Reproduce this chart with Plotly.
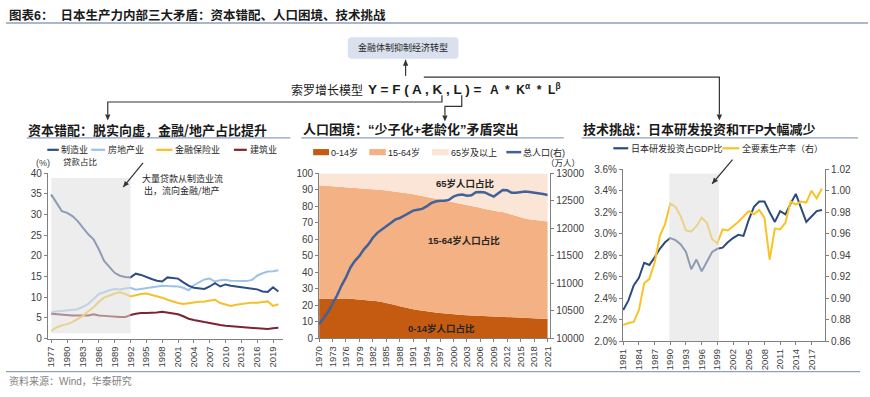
import plotly.graph_objects as go

W, H = 870, 397
def X(p): return p / W
def Y(p): return 1 - p / H

CJK = "Noto Sans CJK SC"
LAT = "Liberation Sans, Noto Sans CJK SC"

# ---------------- data ----------------
# Chart 1: loan share by industry (%)
loan_years = list(range(1977, 2021))
loan_manufacturing = [34.8, 32.9, 30.8, 30.4, 29.6, 28.4, 26.8, 25.2, 24.0, 21.6,
                      18.8, 17.3, 15.9, 15.2, 14.9, 14.8, 15.7, 15.4, 14.8, 14.4,
                      14.0, 13.8, 14.8, 14.6, 14.5, 13.6, 12.8, 12.3, 12.1, 12.0,
                      12.6, 13.4, 12.6, 13.1, 12.8, 12.6, 12.4, 12.3, 12.1, 11.9,
                      11.4, 11.3, 12.4, 11.4]
loan_real_estate = [6.3, 6.6, 6.7, 6.8, 6.9, 7.1, 7.7, 8.4, 9.6, 10.8,
                    11.2, 11.7, 12.0, 11.9, 12.1, 12.3, 11.8, 12.0, 12.2, 12.5,
                    12.7, 12.8, 12.7, 12.6, 12.6, 12.3, 11.7, 12.9, 13.7, 14.3,
                    14.5, 13.8, 14.1, 14.2, 14.0, 14.0, 13.9, 13.9, 14.2, 15.2,
                    15.8, 16.2, 16.3, 16.5]
loan_finance = [1.9, 2.7, 3.2, 3.5, 4.0, 4.8, 5.5, 6.6, 7.6, 8.9,
                9.9, 10.4, 10.9, 11.2, 10.8, 10.2, 10.5, 10.8, 10.9, 10.6,
                10.2, 9.9, 9.4, 9.0, 8.6, 8.4, 8.6, 8.8, 8.9, 9.0,
                9.2, 9.4, 8.6, 8.3, 7.9, 8.2, 8.4, 8.6, 8.7, 8.7,
                8.8, 9.0, 7.9, 8.3]
loan_construction = [6.0, 5.9, 5.7, 5.6, 5.6, 5.6, 5.6, 5.6, 5.9, 5.6,
                     5.5, 5.4, 5.2, 5.2, 5.2, 5.7, 6.0, 6.2, 6.2, 6.2,
                     6.3, 6.5, 6.3, 6.2, 5.9, 5.4, 4.8, 4.5, 4.2, 4.0,
                     3.8, 3.5, 3.3, 3.1, 3.0, 2.8, 2.7, 2.7, 2.6, 2.4,
                     2.3, 2.3, 2.5, 2.6]
loan_ticks = list(range(1977, 2020, 3))
loan_shade = [1977, 1992]

# Chart 2: population structure (%) and total population (万人)
pop_years = list(range(1970, 2022))
share_0_14 = [23.9, 24.0, 24.2, 24.3, 24.4, 24.3, 24.2, 24.0, 23.8, 23.6,
              23.5, 23.3, 22.9, 22.5, 22.0, 21.5, 20.9, 20.2, 19.5, 18.8,
              18.2, 17.7, 17.2, 16.7, 16.3, 16.0, 15.6, 15.3, 15.0, 14.8,
              14.6, 14.4, 14.2, 14.0, 13.9, 13.8, 13.7, 13.5, 13.5, 13.3,
              13.2, 13.1, 13.0, 12.9, 12.8, 12.6, 12.4, 12.3, 12.2, 12.1,
              11.9, 11.8]
share_15_64 = [69.0, 68.7, 68.3, 68.1, 67.8, 67.8, 67.7, 67.6, 67.6, 67.5,
               67.4, 67.4, 67.5, 67.7, 68.0, 68.2, 68.5, 68.9, 69.3, 69.6,
               69.7, 69.7, 69.7, 69.8, 69.6, 69.4, 69.3, 69.0, 68.8, 68.5,
               68.0, 67.6, 67.3, 67.0, 66.6, 66.0, 65.5, 65.0, 64.4, 64.0,
               63.8, 63.6, 62.9, 62.0, 61.2, 60.8, 60.3, 60.0, 59.7, 59.5,
               59.5, 59.1]
share_65_plus = [7.1, 7.3, 7.5, 7.6, 7.8, 7.9, 8.1, 8.4, 8.6, 8.9,
                 9.1, 9.3, 9.6, 9.8, 10.0, 10.3, 10.6, 10.9, 11.2, 11.6,
                 12.1, 12.6, 13.1, 13.5, 14.1, 14.6, 15.1, 15.7, 16.2, 16.7,
                 17.4, 18.0, 18.5, 19.0, 19.5, 20.2, 20.8, 21.5, 22.1, 22.7,
                 23.0, 23.3, 24.1, 25.1, 26.0, 26.6, 27.3, 27.7, 28.1, 28.4,
                 28.6, 29.1]
total_population = [10255, 10360, 10480, 10630, 10780, 10960, 11110, 11290, 11410, 11500,
                    11620, 11710, 11830, 11920, 11980, 12040, 12100, 12160, 12190, 12235,
                    12280, 12325, 12340, 12355, 12400, 12460, 12490, 12505, 12505, 12520,
                    12580, 12610, 12616, 12595, 12604, 12658, 12664, 12655, 12616, 12580,
                    12640, 12700, 12694, 12649, 12649, 12658, 12670, 12664, 12655, 12640,
                    12625, 12610]
pop_ticks = list(range(1970, 2022, 3))

# Chart 3: R&D / GDP (%) and TFP
tech_years = list(range(1981, 2020))
rd_gdp_pct = [2.29, 2.38, 2.52, 2.59, 2.73, 2.71, 2.78, 2.86, 2.92, 2.96,
              2.94, 2.90, 2.83, 2.67, 2.76, 2.65, 2.74, 2.83, 2.86, 2.87,
              2.92, 2.96, 2.99, 2.98, 3.13, 3.25, 3.30, 3.30, 3.20, 3.11,
              3.21, 3.18, 3.28, 3.37, 3.24, 3.11, 3.16, 3.21, 3.22]
tfp_index = [0.875, 0.877, 0.878, 0.889, 0.914, 0.918, 0.933, 0.958, 0.969, 0.988,
             0.985, 0.976, 0.963, 0.962, 0.967, 0.975, 0.970, 0.955, 0.951, 0.964,
             0.963, 0.967, 0.971, 0.976, 0.981, 0.978, 0.982, 0.975, 0.936, 0.965,
             0.964, 0.970, 0.990, 0.987, 0.990, 0.989, 1.000, 0.993, 1.002]
tech_ticks = list(range(1981, 2018, 3))
tech_shade = [1989.8, 1999.3]

# ---------------- colors ----------------
C_MFG = "#2d4e85"
C_RE = "#9dc3e6"
C_FIN = "#f5c02a"
C_CON = "#7f2231"
C_014 = "#c55a11"
C_1564 = "#f4b183"
C_65 = "#fbe5d6"
C_POP = "#42609a"
C_RD = "#2d4a7c"
C_TFP = "#f7c325"
LINE_BLUE = "#8ea0bf"
DARK = "#333333"

fig = go.Figure()

for name, vals, col in [("建筑业", loan_construction, C_CON),
                        ("金融保险业", loan_finance, C_FIN),
                        ("房地产业", loan_real_estate, C_RE),
                        ("制造业贷款占比", loan_manufacturing, C_MFG)]:
    fig.add_trace(go.Scatter(x=loan_years, y=vals, name=name, mode="lines",
                             line=dict(color=col, width=2), xaxis="x", yaxis="y",
                             showlegend=False))

for name, vals, col in [("0-14岁", share_0_14, C_014),
                        ("15-64岁", share_15_64, C_1564),
                        ("65岁及以上", share_65_plus, C_65)]:
    fig.add_trace(go.Scatter(x=pop_years, y=vals, name=name, mode="lines",
                             stackgroup="pop", line=dict(width=0, color=col),
                             fillcolor=col, xaxis="x2", yaxis="y2", showlegend=False))
fig.add_trace(go.Scatter(x=pop_years, y=total_population, name="总人口(右)", mode="lines",
                         line=dict(color=C_POP, width=2.5), xaxis="x2", yaxis="y3",
                         showlegend=False))

fig.add_trace(go.Scatter(x=tech_years, y=rd_gdp_pct, name="日本研发投资占GDP比", mode="lines",
                         line=dict(color=C_RD, width=2), xaxis="x3", yaxis="y4", showlegend=False))
fig.add_trace(go.Scatter(x=tech_years, y=tfp_index, name="全要素生产率（右）", mode="lines",
                         line=dict(color=C_TFP, width=2), xaxis="x3", yaxis="y5", showlegend=False))

ax_common = dict(showline=True, linecolor="#808080", linewidth=1, ticks="outside",
                 ticklen=3, tickcolor="#808080", showgrid=False, zeroline=False,
                 tickfont=dict(family=LAT, size=10, color="#404040"))
xt_common = dict(ax_common, tickangle=-90, tickfont=dict(family=LAT, size=9.5, color="#404040"))

fig.update_layout(
    width=W, height=H, autosize=False,
    margin=dict(l=0, r=0, t=0, b=0),
    paper_bgcolor="white", plot_bgcolor="rgba(0,0,0,0)",
    xaxis=dict(xt_common, domain=[X(42.3), X(279.3)], anchor="y",
               range=[1976.36, 2020.83], tickvals=loan_ticks),
    yaxis=dict(ax_common, domain=[Y(343), Y(172.3)], anchor="x",
               range=[0, 40], dtick=5),
    xaxis2=dict(xt_common, domain=[X(316), X(549.3)], anchor="y2",
                range=[1970, 2021.6], tickvals=pop_ticks),
    yaxis2=dict(ax_common, domain=[Y(342.7), Y(172.7)], anchor="x2",
                range=[0, 100], dtick=10),
    yaxis3=dict(ax_common, overlaying="y2", side="right", anchor="x2",
                range=[10000, 13000], dtick=500, tickformat="d"),
    xaxis3=dict(xt_common, domain=[X(622.7), X(826.7)], anchor="y4",
                range=[1980.95, 2019.6], tickvals=tech_ticks),
    yaxis4=dict(ax_common, domain=[Y(345.7), Y(168.3)], anchor="x3",
                range=[2.0, 3.6], dtick=0.2, tickformat=".1f", ticksuffix="%"),
    yaxis5=dict(ax_common, overlaying="y4", side="right", anchor="x3",
                range=[0.86, 1.02], dtick=0.02, tickformat=".2f"),
)

shapes = []
def hline(x0, x1, y, color=LINE_BLUE, w=1.2):
    shapes.append(dict(type="line", xref="paper", yref="paper", x0=X(x0), x1=X(x1),
                       y0=Y(y), y1=Y(y), line=dict(color=color, width=w)))

def path(points, color=DARK, w=1.2, fill=None, closed=False):
    d = "M " + " L ".join(f"{X(a):.5f},{Y(b):.5f}" for a, b in points)
    if closed:
        d += " Z"
    s = dict(type="path", xref="paper", yref="paper", path=d,
             line=dict(color=color, width=w if not fill else 0))
    if fill:
        s["fillcolor"] = fill
    shapes.append(s)

def head(hx, hy, tx, ty, size=6, color=DARK):
    dx, dy = hx - tx, hy - ty
    n = (dx * dx + dy * dy) ** 0.5
    ux, uy = dx / n, dy / n
    bx, by = hx - ux * size, hy - uy * size
    px_, py_ = -uy * size * 0.45, ux * size * 0.45
    path([(hx, hy), (bx + px_, by + py_), (bx - px_, by - py_)], fill=color, closed=True)

def arrow(hx, hy, tx, ty, color=DARK, w=1.2, size=6):
    path([(tx, ty), (hx, hy)], color=color, w=w)
    head(hx, hy, tx, ty, size, color)

def rrect(x0, y0, x1, y1, r, fill):
    def p(a, b): return f"{X(a):.5f},{Y(b):.5f}"
    d = (f"M {p(x0+r,y0)} L {p(x1-r,y0)} Q {p(x1,y0)} {p(x1,y0+r)} "
         f"L {p(x1,y1-r)} Q {p(x1,y1)} {p(x1-r,y1)} L {p(x0+r,y1)} "
         f"Q {p(x0,y1)} {p(x0,y1-r)} L {p(x0,y0+r)} Q {p(x0,y0)} {p(x0+r,y0)} Z")
    shapes.append(dict(type="path", xref="paper", yref="paper", path=d,
                       fillcolor=fill, line=dict(width=0)))

hline(0, 870, 17.5, LINE_BLUE, 1.5)
hline(0, 862, 377, LINE_BLUE, 1.2)
hline(21, 287, 136)
hline(298, 563, 136)
hline(581, 860, 136)

rrect(345, 32.3, 456.7, 54.3, 4, "#dae1ee")

path([(440, 92), (440, 99), (102.7, 99), (102.7, 112)])
head(102.7, 118, 102.7, 110)
path([(460, 92), (460, 103.5), (443, 103.5), (443, 113)])
head(443, 119, 443, 111)
path([(421.7, 73.3), (720, 73.3), (720, 112)])
head(720, 118, 720, 110)
arrow(403.3, 55.5, 403.3, 72)

shapes.append(dict(type="rect", xref="x", yref="y", x0=loan_shade[0], x1=loan_shade[1],
                   y0=1.3, y1=38.8, fillcolor="rgb(222,222,222)", opacity=0.55,
                   line=dict(width=0), layer="above"))
shapes.append(dict(type="rect", xref="x3", yref="y4", x0=tech_shade[0], x1=tech_shade[1],
                   y0=2.0, y1=3.56, fillcolor="rgb(222,222,222)", opacity=0.55,
                   line=dict(width=0), layer="above"))

def lswatch(x0, x1, y, col, w=2.2):
    shapes.append(dict(type="line", xref="paper", yref="paper", x0=X(x0), x1=X(x1),
                       y0=Y(y), y1=Y(y), line=dict(color=col, width=w)))
def bswatch(x0, x1, y, col):
    shapes.append(dict(type="rect", xref="paper", yref="paper", x0=X(x0), x1=X(x1),
                       y0=Y(y + 3.2), y1=Y(y - 3.2), fillcolor=col, line=dict(width=0)))

lswatch(41.7, 53.3, 148.3, C_MFG)
lswatch(86, 100, 148.3, C_RE)
lswatch(151.7, 168, 148.3, C_FIN)
lswatch(230, 243, 148.3, C_CON)

bswatch(310, 326, 150.7, C_014)
bswatch(366.7, 383.3, 150.7, C_1564)
bswatch(430, 446.7, 150.7, C_65)
lswatch(505, 520, 150.7, C_POP, 2.5)

lswatch(613, 628, 146.7, C_RD)
lswatch(723, 740, 146.7, C_TFP)

annotations = []
def txt(x, y, s, size=9, family=CJK, color="#262626", xanchor="left", bold=False, align="left"):
    if bold:
        s = f"<b>{s}</b>"
    annotations.append(dict(x=X(x), y=Y(y), xref="paper", yref="paper", text=s,
                            showarrow=False, xanchor=xanchor, yanchor="middle", align=align,
                            borderpad=0, font=dict(family=family, size=size, color=color)))

txt(2, 9.5, "图表6：  日本生产力内部三大矛盾：资本错配、人口困境、技术挑战",
    size=12.5, family="Liberation Sans, " + CJK, color="#1a1a1a", bold=True)
txt(2, 387, "资料来源：Wind，华泰研究", size=10, family=LAT, color="#7f7f7f")

txt(400.8, 43.3, "金融体制抑制经济转型", size=9, xanchor="center", color="#262626")
txt(361, 86, "索罗增长模型", size=12, xanchor="right", color="#1a1a1a")
txt(364, 86, "<b>Y = F ( A , K , L ) =</b>", size=13.5, family="Liberation Sans", color="#1a1a1a")
txt(487, 86, "<b>A  *  K<sup>α</sup>  *  L<sup>β</sup></b>", size=12, family="Liberation Sans",
    color="#1a1a1a")

txt(21, 127.5, "资本错配：脱实向虚，金融/地产占比提升", size=13, bold=True, color="#1a1a1a")
txt(299, 127.5, "人口困境：“少子化+老龄化”矛盾突出", size=13, bold=True, color="#1a1a1a",
    family=LAT)
txt(581, 127.5, "技术挑战：日本研发投资和TFP大幅减少", size=13, bold=True, color="#1a1a1a",
    family=LAT)

txt(55, 148, "制造业", size=9)
txt(56.7, 159.5, "贷款占比", size=8.5)
txt(101.7, 148, "房地产业", size=9)
txt(170, 148, "金融保险业", size=9)
txt(245, 148, "建筑业", size=9)
txt(37, 161.5, "(%)", size=9, family=LAT, xanchor="center", color="#404040")
txt(136, 184, "大量贷款从制造业流<br> 出，流向金融/地产", size=9)
arrow(118.3, 186.7, 138.3, 161.7)

txt(327.3, 150.7, "0-14岁", size=9, family=LAT)
txt(385, 150.7, "15-64岁", size=9, family=LAT)
txt(447.7, 150.7, "65岁及以上", size=9, family=LAT)
txt(520.7, 150.7, "总人口(右)", size=9, family=LAT)
txt(562, 160.5, "（万人）", size=8.5, xanchor="center")
txt(464, 183.3, "65岁人口占比", size=9.5, family=LAT, xanchor="center", bold=True)
txt(462.5, 241.7, "15-64岁人口占比", size=9.5, family=LAT, xanchor="center", bold=True)
txt(440, 332.7, "0-14岁人口占比", size=9.5, family=LAT, xanchor="center", bold=True)

txt(630, 146.7, "日本研发投资占GDP比", size=9, family=LAT)
txt(742, 146.7, "全要素生产率（右）", size=9)
arrow(712.7, 183.3, 733.3, 158.3)

fig.update_layout(shapes=shapes, annotations=annotations)
fig.write_html("out.html",
               config={"displayModeBar": False},
               post_script="document.body.style.margin='0px';document.body.style.padding='0px';"
                           "document.documentElement.style.overflow='hidden';")
